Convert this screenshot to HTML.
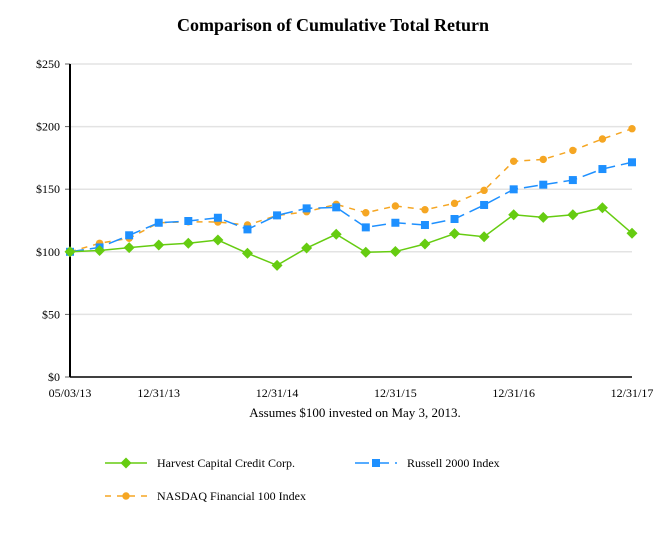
<!DOCTYPE html>
<html><head><meta charset="utf-8"><style>
html,body{margin:0;padding:0;background:#fff;}
svg{display:block;font-family:"Liberation Serif",serif;}
</style></head><body>
<svg id="chart" width="666" height="533" viewBox="0 0 666 533">
<text x="333" y="31" text-anchor="middle" font-size="18" font-weight="bold">Comparison of Cumulative Total Return</text>
<g id="grid"></g><g id="axes"></g><g id="series"></g>
<text x="355" y="417" text-anchor="middle" font-size="13">Assumes $100 invested on May 3, 2013.</text>
<g id="legend"></g>
</svg>
<script>
const xLabels=["05/03/13","12/31/13","12/31/14","12/31/15","12/31/16","12/31/17"];
const xLabelIdx=[0,3,7,11,15,19];
const yTicks=[0,50,100,150,200,250];
const harvest=[100,101,103.3,105.4,106.8,109.4,98.8,89.2,103,114,99.6,100.2,106.2,114.5,112,129.6,127.5,129.6,135.2,114.8];
const russell=[100,103.5,113.2,123.2,124.6,127.2,117.9,129.1,134.7,135.5,119.5,123.2,121.4,126.2,137.4,149.9,153.6,157.3,166.1,171.5];
const nasdaq=[100,106.8,110.8,123.2,124,123.8,121.4,129,132,137.9,131.2,136.6,133.6,138.7,149.1,172.3,173.8,181,190.1,198.3];
const ns="http://www.w3.org/2000/svg";
const X0=70,X1=632,Y0=377,Y1=64;
const xs=i=>X0+(X1-X0)*i/19;
const ys=v=>Y0-(Y0-Y1)*v/250;
function mk(t,a,p){const e=document.createElementNS(ns,t);for(const k in a)e.setAttribute(k,a[k]);p.appendChild(e);return e;}
const grid=document.getElementById('grid'),axes=document.getElementById('axes'),ser=document.getElementById('series'),leg=document.getElementById('legend');
yTicks.forEach(v=>{
 if(v>0){const g=mk('line',{x1:X0,x2:X1,y1:ys(v),y2:ys(v),stroke:'#e3e3e3','stroke-width':1.5},grid);
 
 }
 mk('line',{x1:X0-5,x2:X0,y1:ys(v),y2:ys(v),stroke:'#666'},axes);
 const t=mk('text',{x:X0-10,y:ys(v)+4,'text-anchor':'end','font-size':12},axes);t.textContent='$'+v;
 
 
});
mk('line',{x1:X0,x2:X0,y1:Y1,y2:Y0,stroke:'#000','stroke-width':2},axes);
mk('line',{x1:X0,x2:X1,y1:Y0,y2:Y0,stroke:'#000','stroke-width':1.5},axes);
xLabels.forEach((l,k)=>{const t=mk('text',{x:xs(xLabelIdx[k]),y:Y0+20,'text-anchor':'middle','font-size':12},axes);t.textContent=l;
 
 });
function marker(type,x,y,c,p){
 if(type==='d')return mk('polygon',{points:`${x},${y-5.5} ${x+5.5},${y} ${x},${y+5.5} ${x-5.5},${y}`,fill:c},p);
 if(type==='s')return mk('rect',{x:x-4,y:y-4,width:8,height:8,fill:c},p);
 return mk('circle',{cx:x,cy:y,r:3.7,fill:c},p);
}
function series(data,c,dash,type,name){
 const g=mk('g',{},ser);
 
 
 mk('polyline',{points:data.map((v,i)=>xs(i)+','+ys(v)).join(' '),fill:'none',stroke:c,'stroke-width':1.5,'stroke-dasharray':dash},g);
 data.forEach((v,i)=>{const m=marker(type,xs(i),ys(v),c,g);
 
 });
}
series(nasdaq,'#f5a623','6,6','c','nasdaq-financial-series');
series(russell,'#1e90ff','14,6','s','russell-2000-series');
series(harvest,'#66cc11','','d','harvest-series');
function legItem(x,y,c,dash,type,label,name){
 const g=mk('g',{},leg);
 
 
 mk('line',{x1:x,x2:x+42,y1:y,y2:y,stroke:c,'stroke-width':1.5,'stroke-dasharray':dash},g);
 marker(type,x+21,y,c,g);
 const t=mk('text',{x:x+52,y:y+4,'font-size':12},g);t.textContent=label;
}
legItem(105,463,'#66cc11','','d','Harvest Capital Credit Corp.','legend-harvest');
legItem(355,463,'#1e90ff','14,6','s','Russell 2000 Index','legend-russell');
legItem(105,496,'#f5a623','6,6','c','NASDAQ Financial 100 Index','legend-nasdaq');
</script>
</body></html>
